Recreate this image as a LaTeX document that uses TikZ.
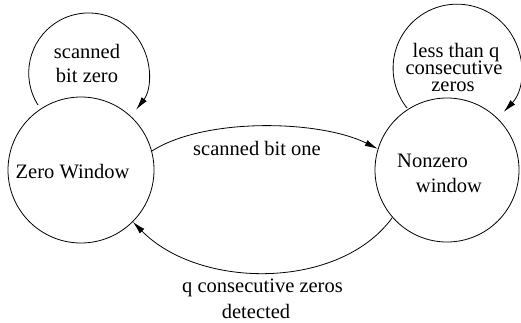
\documentclass[tikz,border=0pt]{standalone}
\usepackage{fontspec}
\setmainfont{Liberation Serif}
\usetikzlibrary{arrows.meta}
\begin{document}
\begin{tikzpicture}[x=1pt,y=-1pt,
  state/.style={circle,draw,line width=0.8pt,minimum size=146pt,inner sep=0pt},
  lbl/.style={font=\fontsize{20.5}{24}\selectfont,inner sep=0pt,anchor=base},
  conn/.style={line width=0.8pt,-{Latex[length=13pt,width=6.5pt]}}]
\useasboundingbox (0,0) rectangle (521,322);
% states
\node[state] (zw) at (81,170) {};
\node[state,minimum size=144pt] (nz) at (447,170) {};
\node[lbl] (zwt) at (72.5,178) {Zero Window};
\node[lbl] (nzt1) at (432.5,167) {Nonzero};
\node[lbl] (nzt2) at (449,192) {window};
% self loops
\coordinate (la) at (38,105);
\draw[conn] (la) arc[start angle=147.7, end angle=397.6, radius=60];
\node[lbl] (lt1) at (87,58) {scanned};
\node[lbl] (lt2) at (87,82) {bit zero};
\coordinate (ra) at (407,108);
\draw[conn] (ra) arc[start angle=141.5, end angle=403.1, radius=64];
\node[lbl] (rt1) at (456,57) {less than q};
\node[lbl] (rt2) at (454,74) {consecutive};
\node[lbl] (rt3) at (453,91) {zeros};
% transitions
\draw[conn] (zw.15) .. controls (205,117) and (320,120) .. (nz.163);
\node[lbl] (e1) at (257,155) {scanned bit one};
\draw[conn] (nz.221) .. controls (340,290) and (200,290) .. (zw.-45);
\node[lbl] (e2a) at (262.5,292) {q consecutive zeros};
\node[lbl] (e2b) at (256,318) {detected};
\end{tikzpicture}
\end{document}
